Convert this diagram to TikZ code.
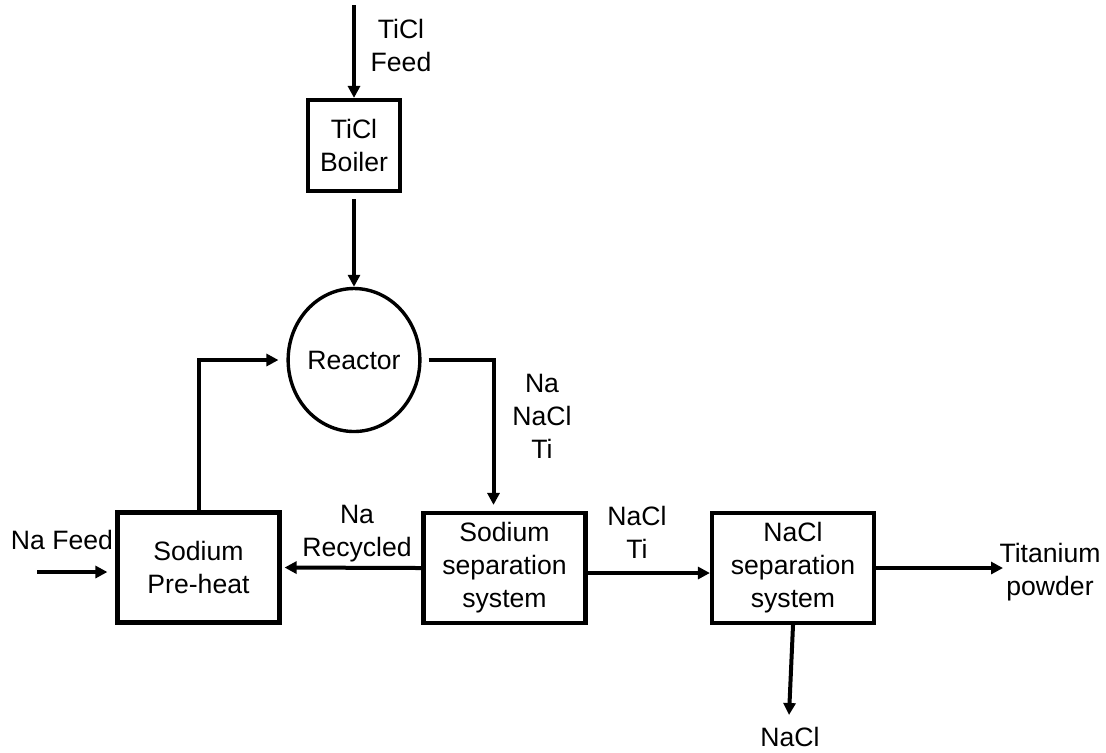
\documentclass[tikz,border=0pt]{standalone}
\usepackage{fontspec}
\setmainfont{Liberation Sans}
\usetikzlibrary{arrows.meta,shapes.geometric}
\begin{document}
\begin{tikzpicture}[x=0.5pt,y=-0.5pt,
	font=\fontsize{13.3pt}{16.5pt}\selectfont,
	unit/.style={draw,line width=2.1pt,align=center,inner sep=0pt,minimum width=81pt,minimum height=55pt},
	flow/.style={line width=2pt,-{Triangle[length=6pt,width=6pt]}},
	lbl/.style={align=center,inner sep=0pt}]
	\useasboundingbox (0,0) rectangle (1106,752);
	% units
	\node[unit,minimum width=46pt,minimum height=45.5pt] (boiler) at (354,145.5) {TiCl\\Boiler};
	\node[draw,ellipse,line width=1.7pt,inner sep=0pt,minimum width=64pt,minimum height=71.5pt] (reactor) at (354,360) {Reactor};
	\node[unit] (preheat) at (198.5,567.5) {Sodium\\Pre-heat};
	\node[unit] (sep) at (504.5,568) {Sodium\\separation\\system};
	\node[unit] (naclsep) at (793,568) {NaCl\\separation\\system};
	% stream labels
	\node[lbl] (ticllbl) at (401,45) {TiCl\\Feed};
	\node[lbl] (mixlbl) at (542,416) {Na\\NaCl\\Ti};
	\node[lbl] (nalbl) at (357,534) {Na\\Recycled};
	\node[lbl] (tilbl) at (637,532) {NaCl\\Ti};
	\node[lbl] (feedlbl) at (62,540) {Na Feed};
	\node[lbl] (powlbl) at (1050,572) {Titanium\\powder};
	\node[lbl] (salt) at (790,737) {NaCl};
	% streams
	\coordinate (ticlin) at (354,5);
	\coordinate (nain) at (37,572);
	\coordinate (tiout) at (1003,568);
	\coordinate (naclout) at (789,715);
	\draw[flow] (ticlin) -- (boiler.north);
	\draw[flow,shorten <=3pt] (boiler.south) -- (reactor.north);
	\draw[flow,shorten >=4pt] (preheat.north) |- (reactor.west);
	\draw[flow,shorten <=3.5pt,shorten >=3pt] (reactor.east) -| ([xshift=-5.5pt]sep.north);
	\draw[flow,shorten >=1.5pt] (sep.west) -- (preheat.east);
	\draw[flow] ([yshift=-2.5pt]sep.east) -- ([yshift=-2.5pt]naclsep.west);
	\draw[flow] (naclsep.east) -- (tiout);
	\draw[flow] (naclsep.south) -- (naclout);
	\draw[flow,shorten >=4pt] (nain) -- (preheat.west |- nain);
\end{tikzpicture}
\end{document}
